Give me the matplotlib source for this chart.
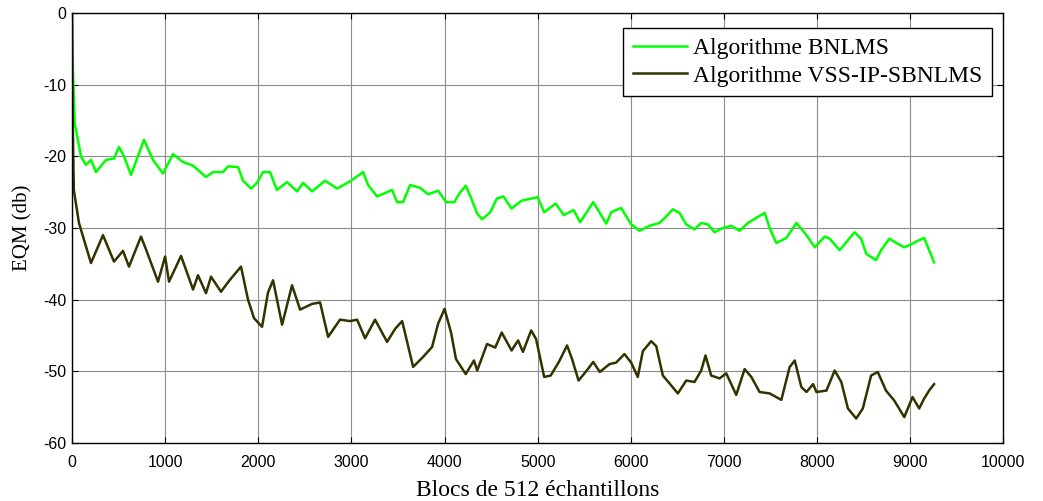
import numpy as np
import matplotlib
matplotlib.use('Agg')
import matplotlib.pyplot as plt

plt.rcParams['axes.unicode_minus'] = False

# BNLMS curve
x_bn = [0, 10, 30, 97, 150, 204, 258, 365, 451, 505, 558, 634, 773, 870, 977,
        1085, 1192, 1300, 1439, 1514, 1622, 1676, 1783, 1837, 1923, 1987, 2051,
        2127, 2200, 2309, 2417, 2481, 2578, 2717, 2846, 2986, 3126, 3179, 3276,
        3437, 3491, 3555, 3631, 3738, 3824, 3931, 4018, 4105, 4158, 4228, 4281,
        4351, 4404, 4491, 4561, 4632, 4720, 4825, 4930, 5000, 5070, 5193, 5281,
        5386, 5456, 5597, 5737, 5790, 5896, 6004, 6093, 6201, 6308, 6380, 6451,
        6523, 6595, 6684, 6756, 6827, 6899, 6989, 7079, 7168, 7258, 7347, 7437,
        7491, 7562, 7670, 7778, 7886, 7975, 8082, 8135, 8242, 8313, 8402, 8473,
        8527, 8633, 8687, 8776, 8865, 8936, 9025, 9078, 9150, 9203, 9256]
y_bn = [0, -8, -15.4, -20, -21.2, -20.5, -22.2, -20.5, -20.3, -18.7, -20, -22.6,
        -17.7, -20.5, -22.4, -19.7, -20.8, -21.3, -22.9, -22.2, -22.2, -21.4,
        -21.5, -23.4, -24.5, -23.7, -22.2, -22.2, -24.7, -23.6, -24.9, -23.7,
        -24.9, -23.4, -24.5, -23.5, -22.2, -24, -25.6, -24.7, -26.4, -26.4, -24,
        -24.4, -25.3, -24.8, -26.4, -26.4, -25.2, -24.1, -25.7, -28, -28.8,
        -27.8, -25.9, -25.6, -27.3, -26.2, -25.9, -25.7, -27.8, -26.6, -28.2,
        -27.5, -29.2, -26.4, -29.4, -27.8, -27.2, -29.5, -30.4, -29.7, -29.3,
        -28.4, -27.4, -27.9, -29.5, -30.2, -29.3, -29.5, -30.6, -30, -29.7,
        -30.4, -29.3, -28.6, -27.9, -30, -32.1, -31.4, -29.3, -31, -32.7, -31.2,
        -31.5, -33.1, -32, -30.6, -31.5, -33.6, -34.5, -33.1, -31.5, -32.2,
        -32.7, -32.2, -31.8, -31.4, -33.1, -34.8]

# VSS-IP-SBNLMS curve
x_vss = [0, 8, 20, 75, 204, 333, 451, 548, 612, 741, 795, 924, 1000, 1042, 1171,
         1300, 1353, 1439, 1493, 1600, 1686, 1815, 1890, 1955, 2041, 2105, 2159,
         2256, 2363, 2449, 2578, 2664, 2750, 2878, 2986, 3061, 3147, 3254, 3383,
         3469, 3545, 3663, 3770, 3867, 3930, 4000, 4070, 4123, 4228, 4316, 4351,
         4456, 4544, 4614, 4720, 4790, 4842, 4930, 4983, 5070, 5140, 5228, 5316,
         5369, 5439, 5527, 5597, 5667, 5772, 5842, 5932, 6004, 6075, 6129, 6219,
         6273, 6344, 6416, 6505, 6595, 6684, 6756, 6802, 6863, 6953, 7025, 7132,
         7222, 7294, 7383, 7491, 7616, 7706, 7760, 7831, 7886, 7957, 7993, 8100,
         8189, 8260, 8331, 8420, 8491, 8580, 8651, 8740, 8829, 8936, 9025, 9096,
         9150, 9203, 9256]
y_vss = [0, -15, -24.7, -29.3, -34.9, -31, -34.7, -33.2, -35.4, -31.2, -33, -37.5,
         -34, -37.5, -33.9, -38.6, -36.6, -39.1, -36.8, -38.9, -37.4, -35.4, -40,
         -42.6, -43.8, -39, -37.3, -43.5, -38, -41.4, -40.6, -40.4, -45.2, -42.8,
         -43, -42.8, -45.4, -42.8, -45.9, -44.1, -43, -49.4, -48, -46.6, -43.4,
         -41.3, -44.6, -48.3, -50.4, -48.5, -49.9, -46.2, -46.7, -44.6, -47.1,
         -45.7, -47.3, -44.3, -45.5, -50.8, -50.6, -48.7, -46.4, -48.3, -51.3,
         -49.9, -48.7, -50.1, -49, -48.8, -47.6, -48.8, -50.8, -47.2, -45.8,
         -46.5, -50.6, -51.7, -53.1, -51.3, -51.5, -49.9, -47.8, -50.6, -51,
         -50.3, -53.3, -49.7, -50.8, -52.9, -53.1, -54, -49.4, -48.5, -52.2,
         -52.9, -51.8, -52.9, -52.7, -49.9, -51.5, -55.2, -56.6, -55.2, -50.6,
         -50.1, -52.7, -54.1, -56.4, -53.6, -55.2, -53.8, -52.7, -51.8]

labels = ['Algorithme BNLMS', 'Algorithme VSS-IP-SBNLMS']

fig = plt.figure(figsize=(10.43, 5.01), dpi=100)
ax = fig.add_axes([0.069, 0.116, 0.893, 0.858])

ax.plot(x_bn, y_bn, color='#00ff00', lw=1.8, label=labels[0])
ax.plot(x_vss, y_vss, color='#333300', lw=1.8, label=labels[1])

ax.set_xlim(0, 10000)
ax.set_ylim(-60, 0)
ax.set_xticks(np.arange(0, 10001, 1000))
ax.set_yticks(np.arange(-60, 1, 10))
ax.grid(True, color='#8c8c8c', lw=0.8, ls='-')
ax.tick_params(direction='in', top=True, right=True, length=4, labelsize=11.5)
ax.tick_params(axis='x', pad=9)
ax.tick_params(axis='y', pad=4)
for lab in ax.get_xticklabels() + ax.get_yticklabels():
    lab.set_family('Liberation Sans')
for s in ax.spines.values():
    s.set_linewidth(1.0)

ax.set_xlabel('Blocs de 512 échantillons', family='Liberation Serif', size=17, labelpad=7)
ax.set_ylabel('EQM (db)', family='Liberation Serif', size=15, labelpad=8)

leg = ax.legend(loc='upper right', bbox_to_anchor=(0.99, 0.97), fancybox=False,
                edgecolor='black', framealpha=1, handlelength=2.3,
                prop={'family': 'Liberation Serif', 'size': 17},
                borderpad=0.4, labelspacing=0.25, handletextpad=0.25,
                borderaxespad=0.1)
leg.get_frame().set_linewidth(1.0)

fig.savefig('out.png', dpi=100)
